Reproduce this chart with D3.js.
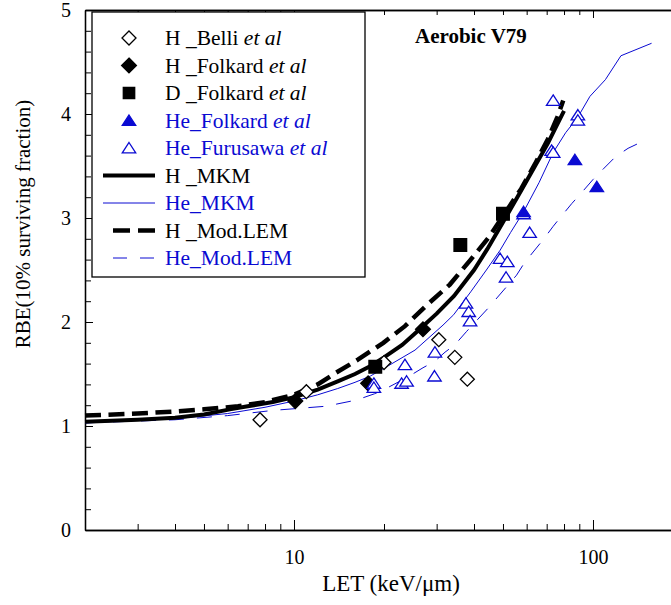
<!DOCTYPE html>
<html lang="en">
<head>
<meta charset="UTF-8">
<title>RBE vs LET - Aerobic V79</title>
<script src="https://cdn.jsdelivr.net/npm/d3@7"></script>
<style>
  body { margin: 0; background: #fff; }
  svg text { font-family: "Liberation Serif", "DejaVu Serif", serif !important; }
</style>
</head>
<body>
<div id="box"></div>
<script>
// curves: [LET (keV/um), RBE]
var hMkm = [[2,1.04],[3,1.06],[4,1.08],[5,1.11],[6.1,1.16],[7,1.19],[8.5,1.23],[10.1,1.28],[12,1.35],
  [14,1.43],[16,1.5],[18.1,1.58],[20,1.66],[23,1.78],[26.1,1.92],[30,2.08],[34.3,2.25],[40,2.5],
  [44.3,2.7],[50,2.96],[57.4,3.26],[64,3.5],[70.7,3.72],[75,3.87],[80,4.03]];
var hLem = [[2,1.1],[3,1.12],[4,1.14],[5,1.16],[6.5,1.19],[8,1.23],[10,1.3],[12,1.4],[13.6,1.5],
  [16.4,1.64],[19.9,1.8],[23.5,1.96],[28,2.17],[33.2,2.36],[39,2.6],[45,2.82],[50,3.02],[57.5,3.28],
  [64,3.52],[70.7,3.76],[76,3.97],[79.5,4.13]];
var heMkm = [[2,1.03],[4,1.07],[6,1.12],[8,1.18],[10,1.24],[12,1.3],[14,1.36],[16,1.42],[18,1.48],
  [20.7,1.58],[25.4,1.73],[31.5,1.97],[34.2,2.07],[39,2.29],[44,2.5],[48.9,2.69],[53,2.86],[58.6,3.06],
  [66,3.34],[73.6,3.63],[81,3.82],[89,3.97],[97.7,4.17],[110,4.33],[124,4.56],[157,4.68]];
var heLem = [[2,1.03],[4,1.06],[6,1.1],[8.5,1.15],[12.8,1.19],[16.2,1.25],[18.6,1.31],[20,1.35],
  [24,1.47],[27,1.56],[29.5,1.62],[32,1.71],[34.5,1.78],[37.8,1.91],[41,2.02],[44.5,2.13],[48,2.24],
  [55.5,2.45],[59,2.57],[68.5,2.8],[73.6,2.92],[78,3.01],[85,3.14],[92,3.25],[100,3.37],[109,3.48],
  [119,3.59],[131,3.67],[145,3.73]];

// measured points
var hBelli = [[7.7,1.06],[11,1.33],[20,1.61],[30.5,1.83],[34.5,1.66],[38,1.45]];
var hFolkard = [[10.1,1.24],[17.7,1.41],[27,1.93]];
var dFolkard = [[18.7,1.57],[36,2.74],[50,3.04]];
var heFolkard = [[58.6,3.06],[87,3.56],[103,3.3]];
var heFurusawa = [[18.5,1.41],[18.5,1.37],[23.5,1.59],[22.9,1.41],[23.8,1.43],[29.6,1.71],[29.5,1.48],
  [37.6,2.18],[38.4,2.1],[38.8,2.01],[48.9,2.61],[51.7,2.58],[51.2,2.43],[58.6,3.04],[61.4,2.86],
  [73.6,4.13],[72.7,3.65],[73.6,3.63],[89,3.99],[89,3.94]];

var xMajor = [10, 100];
var xMinor = [3,4,5,6,7,8,9,20,30,40,50,60,70,80,90,200];
var yMajor = [0,1,2,3,4,5];
var yMinor = [0.2,0.4,0.6,0.8,1.2,1.4,1.6,1.8,2.2,2.4,2.6,2.8,3.2,3.4,3.6,3.8,4.2,4.4,4.6,4.8];

var blue = "#0a0ad2";
var width = 671, height = 605;

var x = d3.scaleLog().domain([2, 200]).range([85, 683]);
var y = d3.scaleLinear().domain([0, 5]).range([530, 10]);

var svg = d3.select("#box").append("svg")
  .attr("width", width).attr("height", height);

// axes (ticks pointing inward)
function styleAxis(g) {
  g.selectAll("path").attr("stroke", "#000").attr("stroke-width", 1.3);
  g.selectAll("line").attr("stroke", "#000").attr("stroke-width", 1);
  g.selectAll("text").attr("font-size", 20).attr("fill", "#000");
}

svg.append("g").attr("transform", "translate(0,530)")
  .call(d3.axisBottom(x).tickValues(xMajor).tickFormat(d3.format("d")).tickSize(-10).tickSizeOuter(0).tickPadding(20))
  .call(styleAxis);
svg.append("g").attr("transform", "translate(0,530)")
  .call(d3.axisBottom(x).tickValues(xMinor).tickFormat("").tickSize(-6).tickSizeOuter(0))
  .call(styleAxis);
svg.append("g").attr("transform", "translate(0,10)")
  .call(d3.axisTop(x).tickValues(xMajor).tickFormat("").tickSize(-8).tickSizeOuter(0))
  .call(styleAxis);
svg.append("g").attr("transform", "translate(0,10)")
  .call(d3.axisTop(x).tickValues(xMinor).tickFormat("").tickSize(-5).tickSizeOuter(0))
  .call(styleAxis);
svg.append("g").attr("transform", "translate(85,0)")
  .call(d3.axisLeft(y).tickValues(yMajor).tickFormat(d3.format("d")).tickSize(-8).tickSizeOuter(0).tickPadding(14))
  .call(styleAxis);
svg.append("g").attr("transform", "translate(85,0)")
  .call(d3.axisLeft(y).tickValues(yMinor).tickFormat("").tickSize(-6).tickSizeOuter(0))
  .call(styleAxis);

// axis titles
svg.append("text").attr("x", 391).attr("y", 591).attr("text-anchor", "middle")
  .attr("font-size", 23).text("LET (keV/\u03bcm)");
svg.append("text").attr("transform", "translate(30,224) rotate(-90)").attr("text-anchor", "middle")
  .attr("font-size", 21).text("RBE(10% surviving fraction)");

// curves
var line = d3.line().x(d => x(d[0])).y(d => y(d[1]));
var curves = [
  {data: heLem, color: blue, w: 1, dash: "15,13"},
  {data: heMkm, color: blue, w: 1, dash: null},
  {data: hMkm, color: "#000", w: 4, dash: null},
  {data: hLem, color: "#000", w: 4.5, dash: "16,7.5"}
];
svg.append("g").selectAll("path").data(curves).enter().append("path")
  .attr("d", c => line(c.data))
  .attr("fill", "none")
  .attr("stroke", c => c.color)
  .attr("stroke-width", c => c.w)
  .attr("stroke-dasharray", c => c.dash);

// markers
var triType = { draw: function(ctx, size) {
  var s = Math.sqrt(size);
  ctx.moveTo(0, -0.45 * s); ctx.lineTo(0.55 * s, 0.4 * s); ctx.lineTo(-0.55 * s, 0.4 * s); ctx.closePath();
}};
var diaType = { draw: function(ctx, size) {
  var r = Math.sqrt(size) / 2;
  ctx.moveTo(0, -r); ctx.lineTo(r, 0); ctx.lineTo(0, r); ctx.lineTo(-r, 0); ctx.closePath();
}};
var series = [
  {data: hBelli, type: diaType, size: 196, fill: "#fff", stroke: "#000"},
  {data: hFolkard, type: diaType, size: 220, fill: "#000", stroke: "#000"},
  {data: dFolkard, type: d3.symbolSquare, size: 160, fill: "#000", stroke: "#000"},
  {data: heFurusawa, type: triType, size: 150, fill: "#fff", stroke: blue},
  {data: heFolkard, type: triType, size: 150, fill: blue, stroke: blue}
];
series.forEach(function(s) {
  svg.append("g").selectAll("path").data(s.data).enter().append("path")
    .attr("transform", d => "translate(" + x(d[0]) + "," + y(d[1]) + ")")
    .attr("d", d3.symbol().type(s.type).size(s.size))
    .attr("fill", s.fill).attr("stroke", s.stroke).attr("stroke-width", 1.3);
});

// legend
var legendLabels = [
  ["H _Belli ", "et al"], ["H _Folkard ", "et al"], ["D _Folkard ", "et al"],
  ["He_Folkard ", "et al"], ["He_Furusawa ", "et al"], ["H _MKM", ""], ["He_MKM", ""],
  ["H _Mod.LEM", ""], ["He_Mod.LEM", ""]
];
var legendColors = ["#000", "#000", "#000", blue, blue, "#000", blue, "#000", blue];

var lg = svg.append("g");
lg.append("rect").attr("x", 92).attr("y", 12).attr("width", 273).attr("height", 265)
  .attr("fill", "#fff").attr("stroke", "#000").attr("stroke-width", 1.3);

var rowY = i => 38 + i * 27.5;
legendLabels.forEach(function(lab, i) {
  var t = lg.append("text").attr("x", 165).attr("y", rowY(i) + 7)
    .attr("font-size", 21.5).attr("fill", legendColors[i]);
  t.append("tspan").text(lab[0]);
  if (lab[1]) t.append("tspan").attr("font-style", "italic").text(lab[1]);
});
series.slice(0, 3).concat([series[4], series[3]]).forEach(function(s, i) {
  lg.append("path").attr("transform", "translate(129," + rowY(i) + ")")
    .attr("d", d3.symbol().type(s.type).size(s.type === d3.symbolSquare ? 130 : s.size))
    .attr("fill", s.fill).attr("stroke", s.stroke).attr("stroke-width", 1.3);
});
var legendLines = [curves[2], curves[1], curves[3], curves[0]];
legendLines.forEach(function(c, i) {
  var x0 = c.dash ? 113 : 103;
  lg.append("line").attr("x1", x0).attr("x2", 155)
    .attr("y1", rowY(i + 5)).attr("y2", rowY(i + 5))
    .attr("stroke", c.color).attr("stroke-width", c.w)
    .attr("stroke-dasharray", c.dash === "15,13" ? "14,13" : (c.dash ? "17,8" : null));
});

// title inside plot
svg.append("text").attr("x", 415).attr("y", 43).attr("font-size", 21).attr("font-weight", "bold")
  .text("Aerobic V79");
</script>
</body>
</html>
